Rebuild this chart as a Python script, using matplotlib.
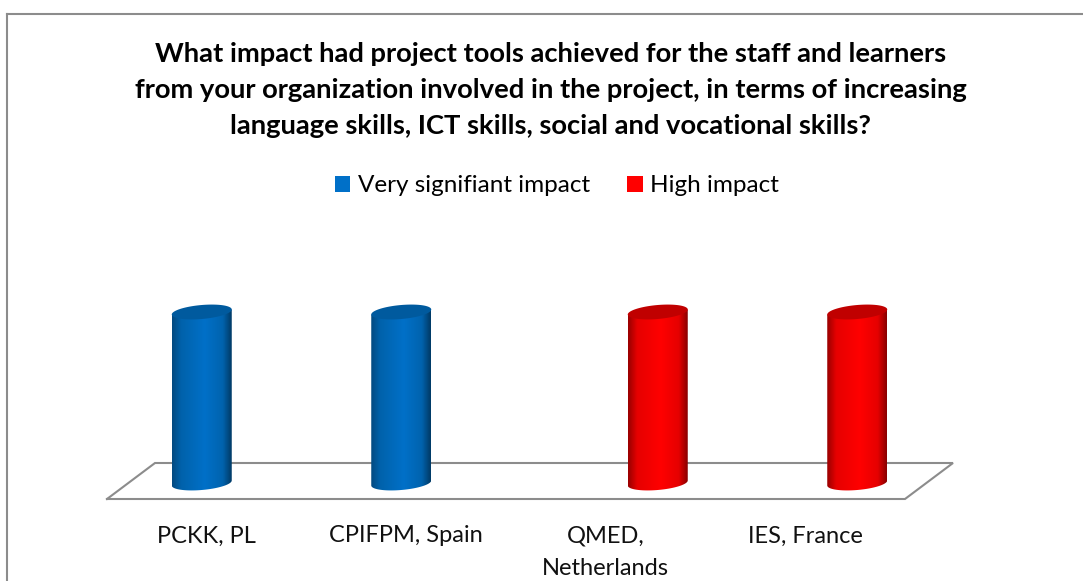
import numpy as np
import matplotlib.pyplot as plt
from matplotlib.colors import LinearSegmentedColormap
from matplotlib.patches import Patch, PathPatch
from matplotlib.path import Path

plt.rcParams['font.family'] = ['Lato', 'DejaVu Sans']

judul = ("What impact had project tools achieved for the staff and learners\n"
         "from your organization involved in the project, in terms of increasing\n"
         "language skills, ICT skills, social and vocational skills?")
kategori = ['PCKK, PL', 'CPIFPM, Spain', 'QMED,\nNetherlands', 'IES, France']
nilaiSangat = [1, 1, 0, 0]
nilaiTinggi = [0, 0, 1, 1]
namaSeri = ['Very signifiant impact', 'High impact']

W, H = 1083, 581
# sumbu: depan lantai dari x=107 s/d 905, y=0 di baris 499, y=1 sejauh 171 px
fig = plt.figure(figsize=(W / 100, H / 100), dpi=100)
ax = fig.add_axes([107 / W, 1 - 499 / H, 798 / W, 205 / H])
batasY = 205 / 171
pxX = 4 / 798
pxY = 1 / 171

warnaBiru = ['#034a80', '#0062ab', '#0070c8', '#0063ae', '#013a66']
warnaMerah = ['#9a0000', '#e60000', '#ff0000', '#e60000', '#8a0000']
atasBiru = '#005a9e'
atasMerah = '#c00000'


def elips(cx, cy):
    t = np.linspace(0, 2 * np.pi, 80)
    return (cx + 30 * pxX * np.cos(t),
            cy + (7 * np.sin(t) + 2.5 * np.cos(t)) * pxY)


def silinder(x, tinggi, warna, warnaAtas):
    if tinggi <= 0:
        return
    # geser ke tengah kedalaman lantai
    cx = x + 23.5 * pxX
    y0 = 16 * pxY
    y1 = y0 + tinggi
    t = np.linspace(0, np.pi, 40)
    xBawah = cx - 30 * pxX * np.cos(t)
    yBawah = y0 + (-7 * np.sin(t) - 2.5 * np.cos(t)) * pxY
    xAtas = [cx + 30 * pxX, cx - 30 * pxX]
    yAtas = [y1 + 2.5 * pxY, y1 - 2.5 * pxY]
    badan = Path(np.vstack([np.r_[xBawah, xAtas], np.r_[yBawah, yAtas]]).T)
    cmap = LinearSegmentedColormap.from_list('c', list(zip([0, 0.15, 0.55, 0.85, 1], warna)))
    gbr = ax.imshow(np.linspace(0, 1, 120).reshape(1, -1), cmap=cmap, aspect='auto',
                    extent=[cx - 30 * pxX, cx + 30 * pxX, y0 - 10 * pxY, y1 + 5 * pxY],
                    zorder=3)
    klip = PathPatch(badan, transform=ax.transData, fc='none', ec='none')
    ax.add_patch(klip)
    gbr.set_clip_path(klip)
    ex, ey = elips(cx, y1)
    ax.fill(ex, ey, color=warnaAtas, zorder=4, lw=0, clip_on=False)


# lantai 3D
lx = [-0.5, 3.5, 3.5 + 48 * pxX, -0.5 + 48 * pxX, -0.5]
ly = [0, 0, 36 * pxY, 36 * pxY, 0]
ax.plot(lx, ly, color='#8c8c8c', lw=1.5, clip_on=False, zorder=1, solid_joinstyle='miter')

offset = 28.5 * pxX
for i in range(len(kategori)):
    silinder(i - offset, nilaiSangat[i], warnaBiru, atasBiru)
    silinder(i + offset, nilaiTinggi[i], warnaMerah, atasMerah)

ax.set_xlim(-0.5, 3.5)
ax.set_ylim(0, batasY)
ax.patch.set_alpha(0)
for s in ax.spines.values():
    s.set_visible(False)
ax.set_yticks([])
ax.set_xticks(range(len(kategori)))
ax.set_xticklabels(kategori, fontsize=17, color='#111111', linespacing=1.66)
ax.tick_params(axis='x', length=0, pad=19)

handles = [Patch(fc='#0070c8', ec='none', label=namaSeri[0]),
           Patch(fc='#ff0000', ec='none', label=namaSeri[1])]
fig.legend(handles=handles, loc='center', bbox_to_anchor=(557 / W, 1 - 186 / H), ncol=2,
           frameon=False, fontsize=17.5, handlelength=0.62, handleheight=0.62,
           handletextpad=0.3, columnspacing=1.55)

fig.text(551 / W, 1 - 90 / H, judul, ha='center', va='center', fontsize=19.7,
         fontweight='bold', color='black', linespacing=1.6)

# bingkai: garis kiri dan atas saja
fig.add_artist(plt.Line2D([7.2 / W, 7.2 / W], [0, 1 - 13.5 / H], color='#8c8c8c', lw=1.5))
fig.add_artist(plt.Line2D([6.5 / W, 1], [1 - 14 / H, 1 - 14 / H], color='#8c8c8c', lw=1.5))

fig.savefig('out.png', dpi=100)
